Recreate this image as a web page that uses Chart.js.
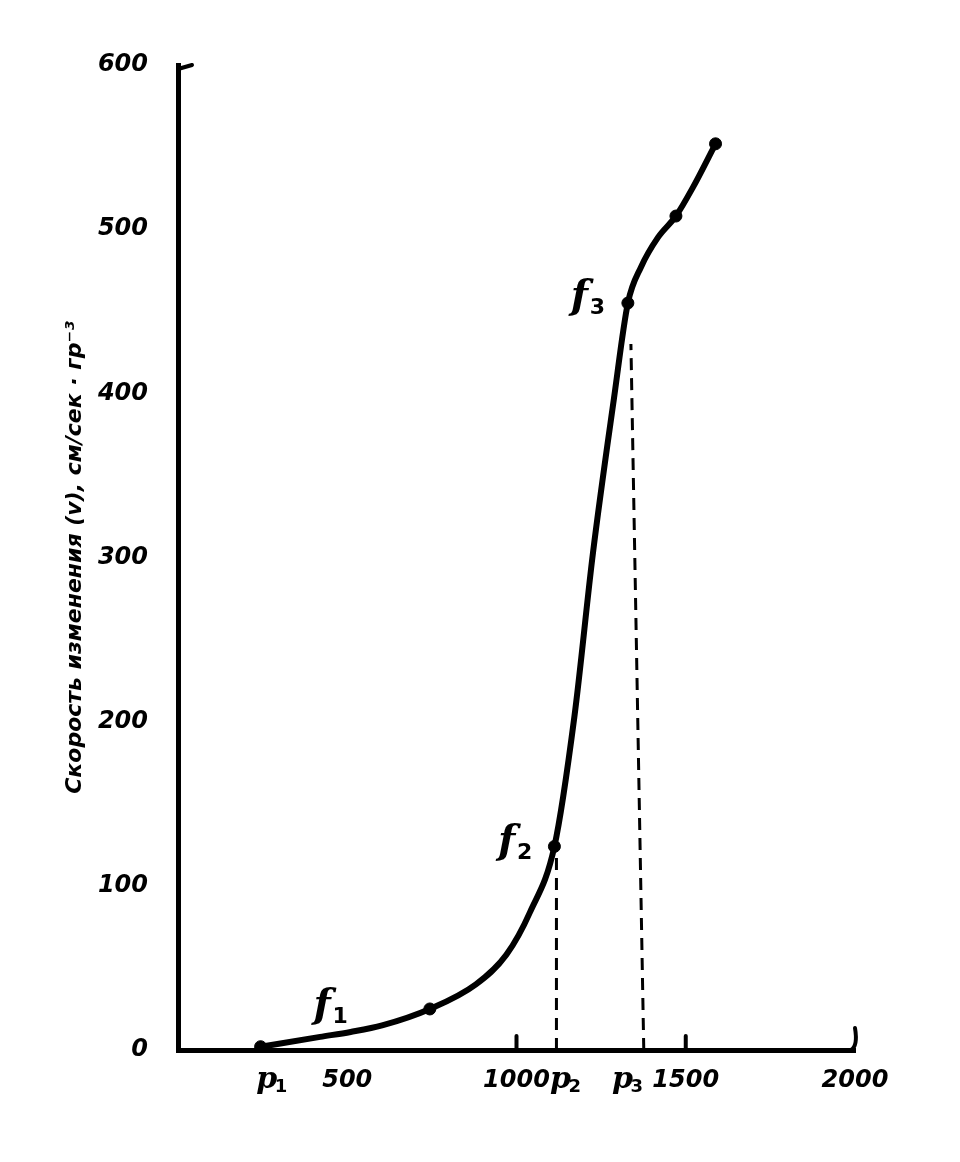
<!DOCTYPE html>
<html><head><meta charset="utf-8">
<script src="https://cdn.jsdelivr.net/npm/chart.js@4.4.1/dist/chart.umd.min.js"></script>
<style>html,body{margin:0;padding:0;background:#fff}#wrap{width:960px;height:1162px}</style>
</head><body><div id="wrap"><canvas id="c" width="960" height="1162"></canvas></div>
<script>
// Curve (pressure p vs. rate v)
const curveX = [244, 420, 510, 603, 744, 880, 970, 1040, 1112, 1171, 1226, 1288, 1329, 1368, 1418, 1471, 1520, 1588];
const curveY = [2, 8, 11, 15, 25, 40, 58, 84, 124, 203, 303, 397, 455, 477, 495, 508, 525, 552];
// Measured points (markers)
const pointX = [244, 744, 1112, 1329, 1471, 1588];
const pointY = [2, 25, 124, 455, 508, 552];
// Dashed verticals at p2 and p3
const dashP2X = [1118, 1118];
const dashP2Y = [0, 118];
const dashP3X = [1376, 1338];
const dashP3Y = [0, 430];
// Tick labels
const xTicks = [500, 1000, 1500, 2000];
const yTicks = [0, 100, 200, 300, 400, 500, 600];
// Annotations
const fLabels = [{t:'f', s:'1', x:400, y:20}, {t:'f', s:'2', x:945, y:120}, {t:'f', s:'3', x:1160, y:452}];
const pLabels = [{t:'p', s:'1', x:262}, {t:'p', s:'2', x:1130}, {t:'p', s:'3', x:1313}];
const yTitle = 'Скорость изменения (v), см/сек · гр⁻³';

const toXY = (xs, ys) => xs.map((x, i) => ({x, y: ys[i]}));
const tickFont = {family: 'DejaVu Sans', size: 24, weight: 'bold', style: 'italic'};

const annot = {
  id: 'annot',
  afterDraw(chart) {
    const {ctx, scales: {x, y}} = chart;
    ctx.save();
    ctx.strokeStyle = '#000'; ctx.lineWidth = 4; ctx.lineCap = 'round';
    const y0 = y.getPixelForValue(0);
    [1000, 1500].forEach(v => { const px = x.getPixelForValue(v); ctx.beginPath(); ctx.moveTo(px, y0); ctx.lineTo(px, y0 - 14); ctx.stroke(); });
    const xr = x.getPixelForValue(2000);
    ctx.beginPath(); ctx.moveTo(xr - 4, y0); ctx.quadraticCurveTo(xr + 3, y0 - 4, xr, y0 - 22); ctx.stroke();
    const yt = y.getPixelForValue(600), xl = x.getPixelForValue(0);
    ctx.beginPath(); ctx.moveTo(xl, yt + 4); ctx.lineTo(xl + 14, yt); ctx.stroke();
    ctx.fillStyle = '#000';
    fLabels.forEach(l => {
      const px = x.getPixelForValue(l.x), py = y.getPixelForValue(l.y);
      ctx.font = 'italic bold 40px "DejaVu Serif"';
      ctx.textAlign = 'left'; ctx.textBaseline = 'alphabetic';
      ctx.fillText(l.t, px, py);
      ctx.font = 'bold 22px "DejaVu Sans"';
      ctx.fillText(l.s, px + 19, py + 6);
    });
    pLabels.forEach(l => {
      const px = x.getPixelForValue(l.x);
      ctx.font = 'italic bold 30px "DejaVu Serif"';
      ctx.textAlign = 'center'; ctx.textBaseline = 'alphabetic';
      ctx.fillText(l.t, px, y0 + 38);
      ctx.font = 'bold 18px "DejaVu Sans"';
      ctx.textAlign = 'left';
      ctx.fillText(l.s, px + 8, y0 + 42);
    });
    ctx.restore();
  }
};

new Chart(document.getElementById('c'), {
  type: 'scatter',
  data: {datasets: [
    {type: 'line', data: toXY(curveX, curveY), borderColor: '#000', borderWidth: 6, pointRadius: 0, cubicInterpolationMode: 'monotone', fill: false},
    {type: 'line', data: toXY(dashP2X, dashP2Y), borderColor: '#000', borderWidth: 3, borderDash: [12, 8], pointRadius: 0},
    {type: 'line', data: toXY(dashP3X, dashP3Y), borderColor: '#000', borderWidth: 3, borderDash: [12, 8], pointRadius: 0},
    {data: toXY(pointX, pointY), backgroundColor: '#000', borderColor: '#000', pointRadius: 6}
  ]},
  options: {
    responsive: false, animation: false,
    layout: {padding: {left: 48, right: 105, top: 65, bottom: 0}},
    plugins: {legend: {display: false}, tooltip: {enabled: false}},
    scales: {
      x: {type: 'linear', min: 0, max: 2000,
        afterBuildTicks: s => { s.ticks = xTicks.map(v => ({value: v})); },
        afterFit: s => { s.height = 112; },
        grid: {display: false, drawTicks: false},
        border: {display: true, color: '#000', width: 5},
        ticks: {color: '#000', font: tickFont, padding: 16, callback: v => String(v)}},
      y: {type: 'linear', min: 0, max: 600,
        afterBuildTicks: s => { s.ticks = yTicks.map(v => ({value: v})); },
        afterFit: s => { s.width = 130; },
        grid: {display: false, drawTicks: false},
        border: {display: true, color: '#000', width: 5},
        ticks: {color: '#000', font: tickFont, padding: 30, callback: v => String(v)},
        title: {display: true, text: yTitle, color: '#000', font: {family: 'DejaVu Sans', size: 22, weight: 'bold', style: 'italic'}, padding: {top: 14, bottom: 4}}}
    }
  },
  plugins: [annot]
});
</script></body></html>
